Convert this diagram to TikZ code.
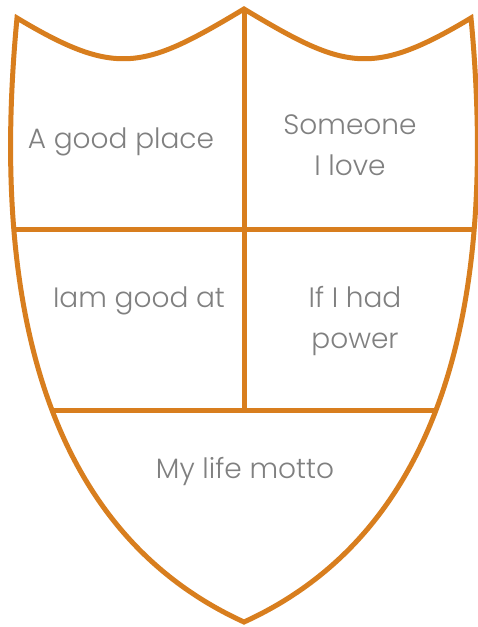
\documentclass[tikz,border=0pt]{standalone}
\usepackage{fontspec}
\setmainfont{Poppins Light}
\usetikzlibrary{positioning}
\definecolor{shieldorange}{RGB}{216,126,30}
\definecolor{labelgray}{RGB}{128,128,128}

\begin{document}
\begin{tikzpicture}[x=1pt, y=-1pt,
    outline/.style={draw=shieldorange, line width=5pt, line join=miter},
    divider/.style={draw=shieldorange, line width=5pt},
    label/.style={text=labelgray, font=\fontsize{28}{41}\selectfont, align=center, inner sep=0pt}]
  \useasboundingbox[fill=white] (0,0) rectangle (477,627);
  % corners of the shield
  \coordinate (tl) at (17,18);
  \coordinate (top) at (244,9);
  \coordinate (tr) at (471,18);
  \coordinate (tip) at (244,622);
  \coordinate (mid) at (244,410);
  \coordinate (rowa-l) at (0,229);
  \coordinate (rowa-r) at (477,229);
  \coordinate (rowb-l) at (0,410);
  \coordinate (rowb-r) at (477,410);
  % dividers, cut to the shield
  \begin{scope}
    \clip (tl) .. controls (117,78) and (144,69) .. (top)
      .. controls (344,69) and (371,78) .. (tr)
      .. controls (493,250) and (468,520) .. (tip)
      .. controls (20,520) and (-5,250) .. (tl) -- cycle;
    \draw[divider] (rowa-l) -- (rowa-r);
    \draw[divider] (rowb-l) -- (rowb-r);
    \draw[divider] (top) -- (mid);
  \end{scope}
  \draw[outline] (tl) .. controls (117,78) and (144,69) .. (top)
    .. controls (344,69) and (371,78) .. (tr)
    .. controls (493,250) and (468,520) .. (tip)
    .. controls (20,520) and (-5,250) .. (tl) -- cycle;
  % texts
  \node[label, anchor=base] (place) at (121,148) {A good place};
  \node[label] (love) at (350,145) {Someone\\I love};
  \node[label, anchor=base] (good) at (139,307) {Iam good at};
  \node[label] (power) at (355,321) {If I had\\power};
  \node[label, anchor=base] (motto) at (245,478) {My life motto};
\end{tikzpicture}
\end{document}
